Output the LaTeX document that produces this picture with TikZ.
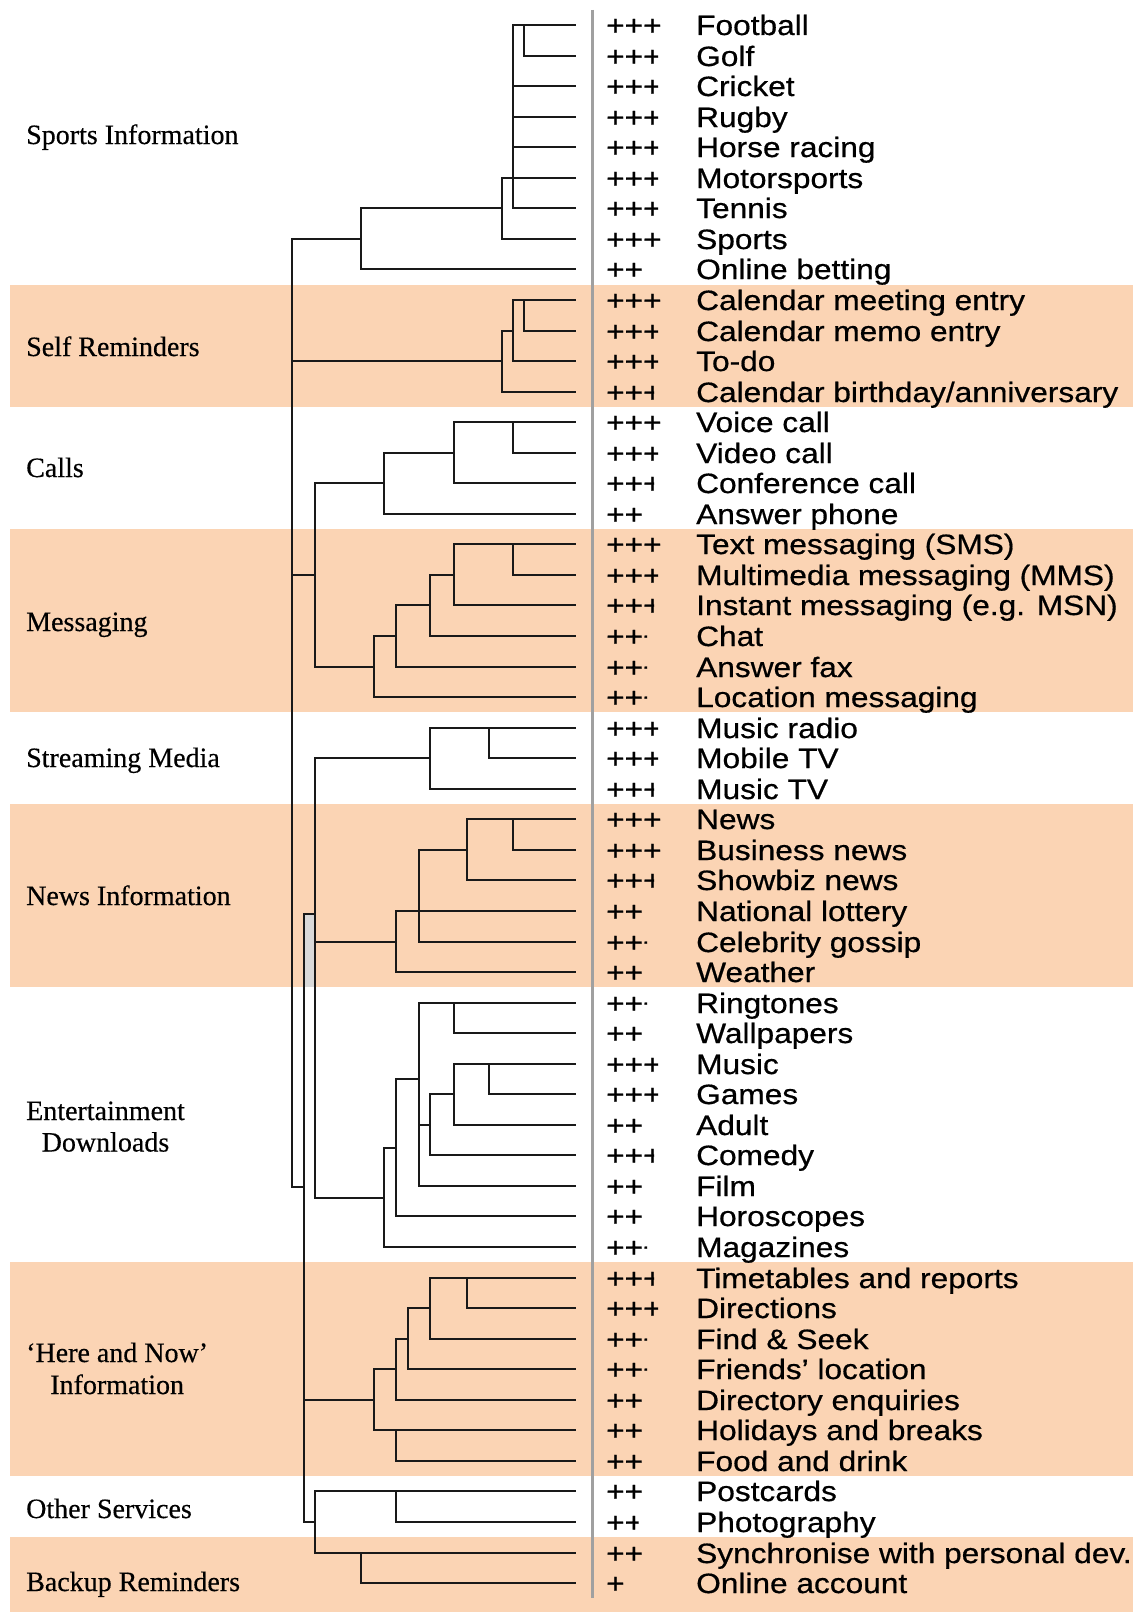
\documentclass[tikz,border=0pt]{standalone}
\usepackage{fontspec}
\setmainfont[FakeBold=0.4]{Liberation Serif}
\newfontfamily\itemface[FakeStretch=1.13,FakeBold=0.6]{Liberation Sans}
\usetikzlibrary{calc}
\definecolor{peach}{HTML}{FBD4B4}
\definecolor{rulegrey}{HTML}{A0A0A0}
\definecolor{patchgrey}{HTML}{D9D9D9}

% vertical position of leaf row #1 (snapped to whole units)
\newcommand\rowy[1]{round(25+30.55*(#1))}
% horizontal and vertical dendrogram segments (rows may be fractional)
\newcommand\hl[3]{\draw[tree] (#1,{\rowy{#3}}) -- (#2,{\rowy{#3}});}
\newcommand\vl[3]{\draw[tree] (#1,{\rowy{#2}}) -- (#1,{\rowy{#3}});}
% clip limits for the rating column (partly printed last plus)
\def\cF{700}\def\cS{658}\def\cH{654}\def\cD{647}\def\cP{638.5}
% leaf: row, rating, clip x, left end of branch, label
\newcommand\leaf[5]{%
  \pgfmathsetmacro\yy{\rowy{#1}}
  \coordinate (e#1) at (575,\yy);
  \draw[tree] (#4,\yy) -- (e#1);
  \begin{scope}
    \clip (598,\yy-22) rectangle (#3,\yy+22);
    \node[score] (s#1) at (606,\yy+10) {#2};
  \end{scope}
  \node[item] (t#1) at (696,\yy+10) {#5};
}

\begin{document}
\begin{tikzpicture}[x=1bp,y=-1bp,
  tree/.style={line width=2bp, line cap=rect, black!90},
  band/.style={fill=peach},
  score/.style={font=\itemface\fontsize{28bp}{30bp}\selectfont, anchor=base west, inner sep=0pt},
  item/.style={font=\itemface\fontsize{28bp}{30bp}\selectfont, anchor=base west, inner sep=0pt},
  group/.style={font=\fontsize{28bp}{31bp}\selectfont, anchor=base west, inner sep=0pt}]

\useasboundingbox (0,0) rectangle (1138,1612);
\fill[white] (0,0) rectangle (1138,1612);

% shaded category bands
\foreach \a/\b in {8.5/12.5, 16.5/22.5, 25.5/31.5, 40.5/47.5}
  \fill[band] (10,{\rowy{\a}}) rectangle (1133,{\rowy{\b}});
\fill[band] (10,{\rowy{49.5}}) rectangle (1133,1612);

% grey patch between the two trunks
\fill[patchgrey] (304,{\rowy{29.1}}) rectangle (315,{\rowy{31.5}});

% leaves
\leaf{0}{+++}{\cF}{513}{Football}
\leaf{1}{+++}{\cS}{524}{Golf}
\leaf{2}{+++}{\cS}{513}{Cricket}
\leaf{3}{+++}{\cS}{513}{Rugby}
\leaf{4}{+++}{\cS}{513}{Horse racing}
\leaf{5}{+++}{\cS}{502}{Motorsports}
\leaf{6}{+++}{\cS}{513}{Tennis}
\leaf{7}{+++}{\cF}{502}{Sports}
\leaf{8}{++}{\cF}{361}{Online betting}
\leaf{9}{+++}{\cF}{513}{Calendar meeting entry}
\leaf{10}{+++}{\cS}{524}{Calendar memo entry}
\leaf{11}{+++}{\cS}{513}{To-do}
\leaf{12}{+++}{\cH}{502}{Calendar birthday/anniversary}
\leaf{13}{+++}{\cF}{454}{Voice call}
\leaf{14}{+++}{\cS}{513}{Video call}
\leaf{15}{+++}{\cH}{454}{Conference call}
\leaf{16}{++}{\cF}{384}{Answer phone}
\leaf{17}{+++}{\cF}{454}{Text messaging (SMS)}
\leaf{18}{+++}{\cS}{513}{Multimedia messaging (MMS)}
\leaf{19}{+++}{\cH}{454}{Instant messaging (e.g. MSN)}
\leaf{20}{+++}{\cD}{430}{Chat}
\leaf{21}{+++}{\cD}{396}{Answer fax}
\leaf{22}{+++}{\cD}{374}{Location messaging}
\leaf{23}{+++}{\cS}{430}{Music radio}
\leaf{24}{+++}{\cS}{489}{Mobile TV}
\leaf{25}{+++}{\cH}{430}{Music TV}
\leaf{26}{+++}{\cF}{467}{News}
\leaf{27}{+++}{\cF}{513}{Business news}
\leaf{28}{+++}{\cH}{467}{Showbiz news}
\leaf{29}{++}{\cF}{396}{National lottery}
\leaf{30}{+++}{\cD}{419}{Celebrity gossip}
\leaf{31}{++}{\cF}{396}{Weather}
\leaf{32}{+++}{\cD}{419}{Ringtones}
\leaf{33}{++}{\cF}{454}{Wallpapers}
\leaf{34}{+++}{\cS}{454}{Music}
\leaf{35}{+++}{\cS}{489}{Games}
\leaf{36}{++}{\cF}{454}{Adult}
\leaf{37}{+++}{\cH}{430}{Comedy}
\leaf{38}{++}{\cF}{419}{Film}
\leaf{39}{++}{\cF}{396}{Horoscopes}
\leaf{40}{+++}{\cD}{384}{Magazines}
\leaf{41}{+++}{\cH}{430}{Timetables and reports}
\leaf{42}{+++}{\cS}{467}{Directions}
\leaf{43}{+++}{\cD}{430}{Find \& Seek}
\leaf{44}{+++}{\cD}{408}{Friends’ location}
\leaf{45}{++}{\cF}{396}{Directory enquiries}
\leaf{46}{++}{\cF}{374}{Holidays and breaks}
\leaf{47}{++}{\cF}{396}{Food and drink}
\leaf{48}{++}{\cF}{315}{Postcards}
\leaf{49}{++}{\cP}{396}{Photography}
\leaf{50}{++}{\cF}{315}{Synchronise with personal dev.}
\leaf{51}{+}{\cF}{361}{Online account}

% sports
\vl{524}{0}{1}
\vl{513}{0}{6}
\vl{502}{5}{7}
\vl{361}{6}{8}
\hl{361}{502}{6}
\hl{292}{361}{7}
% self reminders
\vl{524}{9}{10}
\vl{513}{9}{11}
\vl{502}{10}{12}
\hl{502}{513}{10}
\hl{292}{502}{11}
% calls
\vl{513}{13}{14}
\vl{454}{13}{15}
\hl{384}{454}{14}
\vl{384}{14}{16}
\hl{315}{384}{15}
\vl{315}{15}{21}
\hl{292}{315}{18}
% messaging
\vl{513}{17}{18}
\vl{454}{17}{19}
\hl{430}{454}{18}
\vl{430}{18}{20}
\hl{396}{430}{19}
\vl{396}{19}{21}
\hl{374}{396}{20}
\vl{374}{20}{22}
\hl{315}{374}{21}
% streaming media
\vl{489}{23}{24}
\vl{430}{23}{25}
\hl{315}{430}{24}
\vl{315}{24}{38.4}
% news
\vl{513}{26}{27}
\vl{467}{26}{28}
\hl{419}{467}{27}
\vl{419}{27}{30}
\vl{396}{29}{31}
\hl{315}{396}{30}
% entertainment downloads
\vl{454}{32}{33}
\vl{419}{32}{38}
\vl{489}{34}{35}
\vl{454}{34}{36}
\hl{430}{454}{35}
\vl{430}{35}{37}
\hl{419}{430}{36}
\hl{396}{419}{34.5}
\vl{396}{34.5}{39}
\hl{384}{396}{36.76}
\vl{384}{36.76}{40}
\hl{315}{384}{38.4}
% trunks
\hl{304}{315}{29.1}
\vl{292}{7}{38.04}
\hl{292}{304}{38.04}
\vl{304}{29.1}{49}
% here and now
\vl{467}{41}{42}
\vl{430}{41}{43}
\hl{408}{430}{42}
\vl{408}{42}{44}
\hl{396}{408}{43}
\vl{396}{43}{45}
\hl{374}{396}{44}
\vl{374}{44}{46}
\vl{396}{46}{47}
\hl{304}{374}{45}
% other services and backup
\vl{396}{48}{49}
\vl{315}{48}{50}
\hl{304}{315}{49}
\vl{361}{50}{51}

% divider between tree and ratings
\draw[rulegrey, line width=3bp] (592,10) -- (592,1598);

% category names
\node[group] (g1) at (26,144) {Sports Information};
\node[group] (g2) at (26,356) {Self Reminders};
\node[group] (g3) at (26,477) {Calls};
\node[group] (g4) at (26,631) {Messaging};
\node[group] (g5) at (26,767) {Streaming Media};
\node[group] (g6) at (26,905) {News Information};
\node[group] (g7) at (26,1120) {Entertainment};
\node[group, anchor=base] (g7b) at ($(g7.base)+(0,31.5)$) {Downloads};
\node[group] (g8) at (26,1362) {‘Here and Now’};
\node[group, anchor=base] (g8b) at ($(g8.base)+(0,32)$) {Information};
\node[group] (g9) at (26,1518) {Other Services};
\node[group] (g10) at (26,1591) {Backup Reminders};
\end{tikzpicture}
\end{document}
